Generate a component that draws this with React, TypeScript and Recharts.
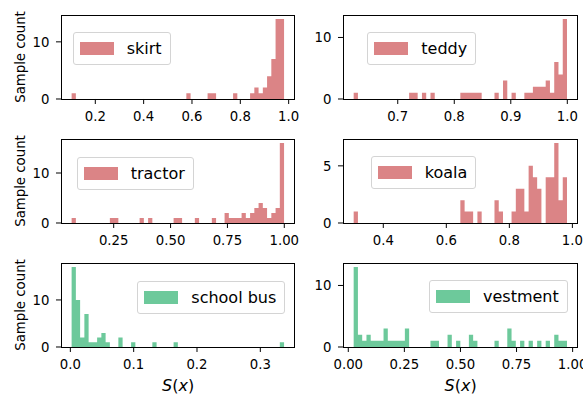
import React from "react";
import { AreaChart, Area, XAxis, YAxis } from "recharts";

const FONT = '"DejaVu Sans", "Liberation Sans", sans-serif';
const RED = "#db8486";
const GREEN = "#6dc99b";

const classNames = ["skirt", "teddy", "tractor", "koala", "school bus", "vestment"];

// first and last bin edge of every histogram (S(x))
const rangeMin = [0.102, 0.622, 0.065, 0.306, 0.002, 0.024];
const rangeMax = [0.981, 0.9995, 0.999, 0.983, 0.3375, 0.975];

// sample counts, 50 equal bins each
const skirtCounts = [
  1, 0, 0, 0, 0, 0, 0, 0, 0, 0,
  0, 0, 0, 0, 0, 0, 0, 0, 0, 0,
  0, 0, 0, 0, 0, 0, 0, 1, 0, 0,
  0, 0, 1, 1, 0, 0, 0, 0, 1, 0,
  0, 0, 1, 2, 1, 2, 4, 7, 14, 14,
];
const teddyCounts = [
  1, 0, 0, 0, 0, 0, 0, 0, 0, 0,
  0, 0, 0, 1, 1, 0, 1, 0, 1, 0,
  0, 0, 0, 0, 0, 1, 1, 1, 1, 1,
  0, 0, 0, 1, 0, 3, 0, 1, 0, 0,
  1, 1, 2, 2, 2, 3, 1, 6, 4, 13,
];
const tractorCounts = [
  1, 0, 0, 0, 0, 0, 0, 0, 0, 1,
  1, 0, 0, 0, 0, 0, 1, 0, 1, 0,
  0, 0, 0, 0, 1, 1, 0, 0, 0, 1,
  0, 0, 0, 1, 0, 0, 2, 1, 1, 1,
  2, 1, 2, 3, 4, 3, 1, 2, 3, 16,
];
const koalaCounts = [
  1, 0, 0, 0, 0, 0, 0, 0, 0, 0,
  0, 0, 0, 0, 0, 0, 0, 0, 0, 0,
  0, 0, 0, 0, 0, 2, 1, 1, 0, 1,
  0, 0, 0, 2, 1, 0, 0, 1, 3, 3,
  1, 5, 4, 3, 0, 4, 4, 7, 2, 4,
];
const schoolBusCounts = [
  17, 10, 2, 7, 1, 1, 2, 3, 1, 0,
  0, 2, 0, 0, 1, 0, 0, 0, 0, 1,
  0, 0, 0, 0, 1, 0, 0, 0, 0, 0,
  0, 0, 0, 0, 0, 0, 0, 0, 0, 0,
  0, 0, 0, 0, 0, 0, 0, 0, 0, 1,
];
const vestmentCounts = [
  13, 2, 1, 2, 1, 1, 1, 3, 1, 1,
  1, 1, 3, 0, 0, 0, 0, 0, 1, 1,
  0, 0, 2, 0, 1, 0, 0, 2, 1, 0,
  0, 0, 0, 1, 0, 0, 3, 1, 0, 1,
  0, 1, 0, 1, 0, 1, 0, 2, 1, 1,
];
const allCounts = [skirtCounts, teddyCounts, tractorCounts, koalaCounts, schoolBusCounts, vestmentCounts];

const xTicks = [
  [0.2, 0.4, 0.6, 0.8, 1.0],
  [0.7, 0.8, 0.9, 1.0],
  [0.25, 0.5, 0.75, 1.0],
  [0.4, 0.6, 0.8, 1.0],
  [0.0, 0.1, 0.2, 0.3],
  [0.0, 0.25, 0.5, 0.75, 1.0],
];
const xDecimals = [1, 1, 2, 1, 1, 2];
const yTicks = [[0, 10], [0, 10], [0, 10], [0, 5], [0, 10], [0, 10]];

// layout
const plotBoxes = [
  { x: 61.3, y: 15, w: 233.7, h: 84 },
  { x: 343.3, y: 15, w: 234.7, h: 84 },
  { x: 61.3, y: 139, w: 233.7, h: 84 },
  { x: 343.3, y: 139, w: 234.7, h: 84 },
  { x: 61.3, y: 263, w: 233.7, h: 84 },
  { x: 343.3, y: 263, w: 234.7, h: 84 },
];
const legendPos = [
  { left: 72.7, top: 31.7 },
  { left: 367.3, top: 31.7 },
  { left: 76.7, top: 156.5 },
  { left: 370.7, top: 156 },
  { left: 137.3, top: 280.5 },
  { left: 429, top: 280 },
];

const AX = 45;
const MT = 5;
const MR = 5;
const XH = 30;
const TICK_FONT = 13.3;

function Panel({ i }: { i: number }) {
  const box = plotBoxes[i];
  const counts = allCounts[i];
  const lo = rangeMin[i];
  const hi = rangeMax[i];
  const binW = (hi - lo) / counts.length;
  const data = counts.map((c, k) => ({ x: lo + k * binW, count: c }));
  data.push({ x: hi, count: 0 });
  const pad = 0.05 * (hi - lo);
  const yTop = Math.max(...counts) * 1.05;
  const color = i < 4 ? RED : GREEN;
  const tickStyle = { fill: "#000", fontSize: TICK_FONT, fontFamily: FONT };

  return (
    <div style={{ position: "absolute", left: box.x - AX, top: box.y - MT }}>
      <AreaChart
        width={box.w + AX + MR}
        height={box.h + MT + XH}
        data={data}
        margin={{ top: MT, right: MR, bottom: 0, left: 0 }}
      >
        <XAxis
          type="number"
          dataKey="x"
          domain={[lo - pad, hi + pad]}
          allowDataOverflow
          ticks={xTicks[i]}
          interval={0}
          tickFormatter={(v: number) => v.toFixed(xDecimals[i])}
          height={XH}
          axisLine={false}
          tickLine={{ stroke: "#000" }}
          tickSize={5}
          tickMargin={8}
          tick={tickStyle}
        />
        <YAxis
          type="number"
          domain={[0, yTop]}
          allowDataOverflow
          ticks={yTicks[i]}
          interval={0}
          width={AX}
          axisLine={false}
          tickLine={{ stroke: "#000" }}
          tickSize={5}
          tickMargin={6.5}
          tick={tickStyle}
        />
        <Area
          type="stepAfter"
          dataKey="count"
          name={classNames[i]}
          stroke="none"
          fill={color}
          fillOpacity={1}
          dot={false}
          activeDot={false}
          isAnimationActive={false}
        />
      </AreaChart>
      <div
        style={{
          position: "absolute",
          left: AX - 0.5,
          top: MT - 0.5,
          width: box.w + 1,
          height: box.h + 1,
          border: "1px solid #000",
          boxSizing: "border-box",
          pointerEvents: "none",
        }}
      />
    </div>
  );
}

function LegendBox({ i }: { i: number }) {
  const pos = legendPos[i];
  return (
    <div
      style={{
        position: "absolute",
        left: pos.left,
        top: pos.top,
        height: 33,
        display: "flex",
        alignItems: "center",
        padding: "0 8px 0 6px",
        border: "1px solid #d4d4d4",
        borderRadius: 3,
        background: "rgba(255,255,255,0.8)",
        boxSizing: "border-box",
        fontSize: 16,
        whiteSpace: "nowrap",
        color: "#000",
      }}
    >
      <span style={{ display: "inline-block", width: 34, height: 13, background: i < 4 ? RED : GREEN, marginRight: 13 }} />
      <span>{classNames[i]}</span>
    </div>
  );
}

export default function App() {
  const yLabelRows = [0, 2, 4];
  const xLabelCols = [4, 5];
  return (
    <div
      style={{
        position: "absolute",
        left: 0,
        top: 0,
        width: 588,
        height: 394,
        overflow: "hidden",
        background: "#fff",
        fontFamily: FONT,
        color: "#000",
      }}
    >
      {classNames.map((_, i) => (
        <Panel key={"p" + i} i={i} />
      ))}
      {classNames.map((_, i) => (
        <LegendBox key={"l" + i} i={i} />
      ))}
      {yLabelRows.map((i) => (
        <div
          key={"y" + i}
          style={{
            position: "absolute",
            left: 19.5,
            top: plotBoxes[i].y + plotBoxes[i].h / 2,
            transform: "translate(-50%, -50%) rotate(-90deg)",
            whiteSpace: "nowrap",
            fontSize: TICK_FONT,
          }}
        >
          Sample count
        </div>
      ))}
      {xLabelCols.map((i) => (
        <div
          key={"x" + i}
          style={{
            position: "absolute",
            left: plotBoxes[i].x + plotBoxes[i].w / 2,
            top: 385,
            transform: "translate(-50%, -50%)",
            whiteSpace: "nowrap",
            fontSize: 16,
          }}
        >
          <i>S</i>(<i>x</i>)
        </div>
      ))}
    </div>
  );
}
